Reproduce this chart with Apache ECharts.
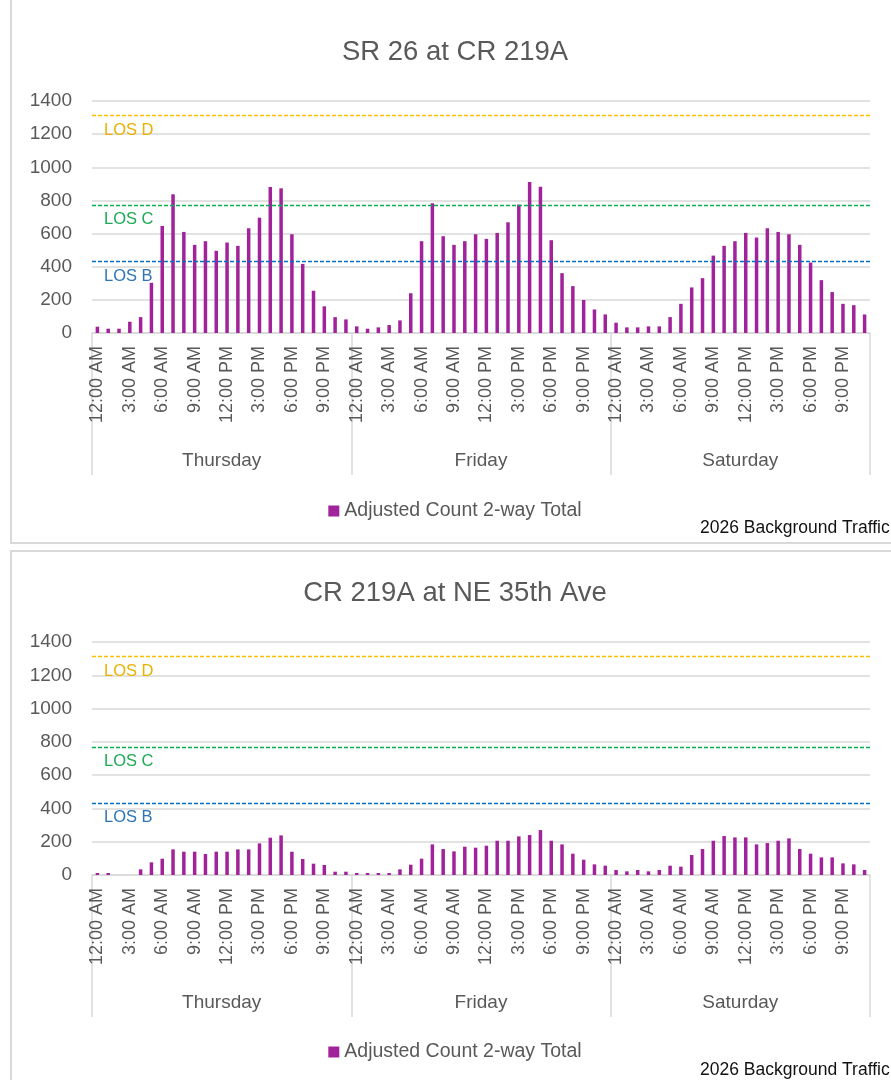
<!DOCTYPE html>
<html>
<head>
<meta charset="utf-8">
<script src="https://cdn.jsdelivr.net/npm/echarts@6/dist/echarts.min.js"></script>
<style>
  html, body { margin: 0; padding: 0; width: 891px; height: 1080px; overflow: hidden; background: #fff; }
  .panel { position: absolute; left: 10px; width: 900px; border: 2px solid #d9d9d9; box-sizing: border-box; }
  .chart { position: absolute; left: 11px; width: 888px; }
</style>
</head>
<body>
<div class="panel" style="top:-4px;height:548px;"></div>
<div class="panel" style="top:550px;height:540px;"></div>
<div id="c1" class="chart" style="top:0px;height:545px;"></div>
<div id="c2" class="chart" style="top:541px;height:539px;"></div>
<script>
const days = ['Thursday', 'Friday', 'Saturday'];
const hours = ['12:00 AM','1:00 AM','2:00 AM','3:00 AM','4:00 AM','5:00 AM','6:00 AM','7:00 AM','8:00 AM','9:00 AM','10:00 AM','11:00 AM',
               '12:00 PM','1:00 PM','2:00 PM','3:00 PM','4:00 PM','5:00 PM','6:00 PM','7:00 PM','8:00 PM','9:00 PM','10:00 PM','11:00 PM'];
const yTicks = [0, 200, 400, 600, 800, 1000, 1200, 1400];

// Chart 1: SR 26 at CR 219A
const title1 = 'SR 26 at CR 219A';
const thu1 = [38,26,26,68,96,303,646,837,610,532,554,496,546,526,632,696,881,873,596,417,255,161,96,82];
const fri1 = [40,26,34,48,76,240,554,783,584,532,554,596,568,604,668,775,911,883,560,361,283,199,142,112];
const sat1 = [62,34,34,40,40,96,176,275,331,467,526,554,604,576,632,610,596,532,425,319,247,176,168,112];

// Chart 2: CR 219A at NE 35th Ave
const title2 = 'CR 219A at NE 35th Ave';
const thu2 = [12,12,0,0,34,76,98,154,140,140,126,140,140,154,154,190,224,238,140,96,68,60,20,20];
const fri2 = [12,12,12,12,34,62,98,184,156,142,170,164,176,206,206,232,240,270,206,184,128,92,64,56];
const sat2 = [30,22,30,22,30,56,50,120,156,206,234,226,226,184,192,206,220,156,128,106,106,70,64,30];

// LOS thresholds
const losNames = ['LOS D', 'LOS C', 'LOS B'];
const losValues = [1312, 770, 430];
const losColors = ['#FFC000', '#00B050', '#0070C0'];
const losTextColors = ['#E9B100', '#1BAA55', '#2E75B6'];

const seriesName = 'Adjusted Count 2-way Total';
const footnote = '2026 Background Traffic';

const FONT = 'Liberation Sans, Arial, sans-serif';
const GRAY = '#595959';
const GRID = '#d9d9d9';
const BAR = '#A0239B';

function build(title, thu, fri, sat) {
  const cats = [];
  days.forEach(d => hours.forEach(h => cats.push(d + '|' + h)));
  const values = thu.concat(fri, sat);
  const losSeries = losNames.map((n, i) => ({
    name: n, type: 'line', xAxisIndex: 0, data: [], silent: true,
    color: losColors[i],
    markLine: {
      silent: true, symbol: 'none', animation: false,
      lineStyle: { color: losColors[i], type: [4, 2], width: 1.3, opacity: 1 },
      label: { show: true, position: 'insideStartBottom', formatter: n,
               color: losTextColors[i], fontSize: 16.5, fontFamily: FONT, distance: [12, 6] },
      data: [{ yAxis: losValues[i] }]
    }
  }));
  return {
    animation: false,
    textStyle: { fontFamily: FONT },
    title: {
      text: title, left: 'center', top: 33,
      textStyle: { fontSize: 27.5, fontWeight: 'normal', color: GRAY, fontFamily: FONT }
    },
    legend: {
      data: [seriesName], left: 'center', top: 496,
      icon: 'rect', itemWidth: 11, itemHeight: 11, itemGap: 6,
      textStyle: { fontSize: 19.5, color: GRAY, fontFamily: FONT }
    },
    graphic: [{
      type: 'text', left: 689, top: 519,
      style: { text: footnote, fontSize: 17.5, fill: '#111', fontFamily: FONT }
    }],
    grid: { left: 81, right: 29, top: 101, height: 232 },
    xAxis: [{
      type: 'category', data: cats, boundaryGap: true,
      axisLine: { show: true, lineStyle: { color: GRID, width: 1.5 } },
      axisTick: { show: false },
      axisLabel: {
        interval: 2, rotate: 90, fontSize: 18, color: GRAY, margin: 13, fontFamily: FONT,
        formatter: v => v.split('|')[1]
      },
      splitLine: { show: false }
    }, {
      type: 'category', data: days, position: 'bottom', boundaryGap: true,
      axisLine: { show: false },
      axisTick: { show: true, length: 142, lineStyle: { color: GRID, width: 1.5 } },
      axisLabel: { fontSize: 19, color: GRAY, margin: 118, fontFamily: FONT },
      splitLine: { show: false }
    }],
    yAxis: {
      type: 'value', min: 0, max: 1400, interval: 200,
      axisLine: { show: false }, axisTick: { show: false },
      axisLabel: { fontSize: 19, color: GRAY, margin: 20, fontFamily: FONT,
                   formatter: v => yTicks.includes(v) ? String(v) : '' },
      splitLine: { lineStyle: { color: GRID, width: 1.5 } }
    },
    series: [{
      name: seriesName, type: 'bar', xAxisIndex: 0, data: values,
      barWidth: 3.5, itemStyle: { color: BAR }
    }].concat(losSeries)
  };
}

const c1 = echarts.init(document.getElementById('c1'), null, { renderer: 'canvas' });
c1.setOption(build(title1, thu1, fri1, sat1));
const c2 = echarts.init(document.getElementById('c2'), null, { renderer: 'canvas' });
const opt2 = build(title2, thu2, fri2, sat2);
opt2.grid.height = 233;
opt2.graphic[0].top = 520;
c2.setOption(opt2);
</script>
</body>
</html>
